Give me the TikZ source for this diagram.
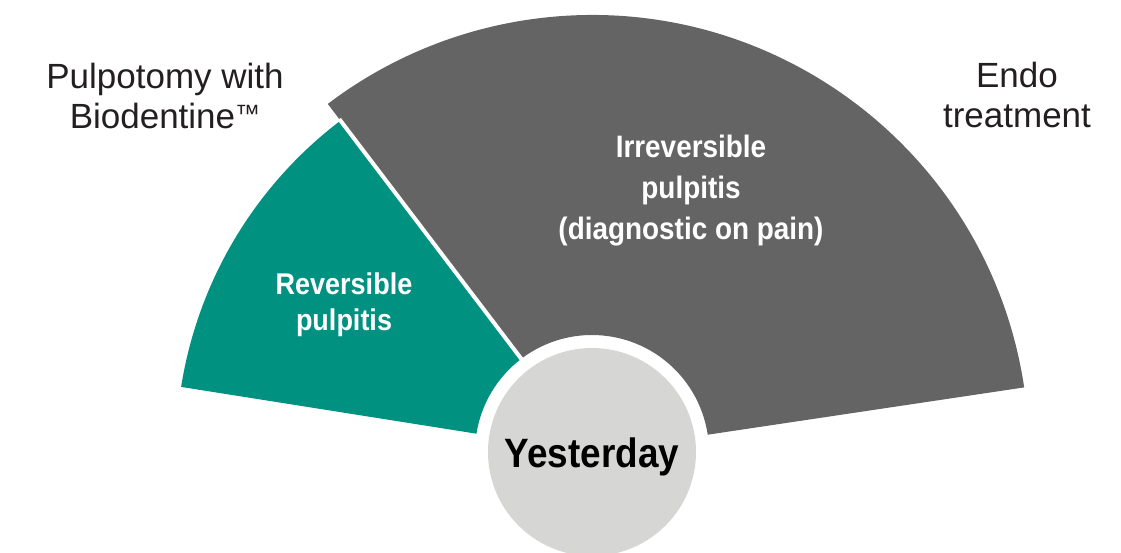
\documentclass[tikz,border=0pt]{standalone}
\usepackage{fontspec}
\setmainfont{Liberation Sans}
\newfontfamily\condfont[FakeStretch=0.9]{Liberation Sans}
\definecolor{tealsec}{RGB}{0,145,128}
\definecolor{greysec}{RGB}{100,100,100}
\definecolor{hubgrey}{RGB}{214,214,212}
\definecolor{txtdark}{RGB}{35,31,32}
\newcommand{\tmark}{\raisebox{6pt}{\fontsize{25}{25}\selectfont ™}}

\begin{document}
\begin{tikzpicture}[inner sep=0pt]
    \tikzstyle{outerlbl}=[align=center, text=txtdark, font=\fontsize{35}{40}\selectfont]
    \tikzstyle{sectlbl}=[align=center, text=white, font=\condfont\bfseries\fontsize{31}{41}\selectfont]
    \tikzstyle{hub}=[circle, fill=hubgrey, minimum size=208pt, text=black,
      text height=32pt, text depth=0pt, font=\condfont\bfseries\fontsize{41}{48}\selectfont]

    \useasboundingbox (-592pt,-101pt) rectangle (529pt,452pt);

    % les secteurs...
    \fill[greysec] (8.5:117pt) -- (8.5:437pt) arc[start angle=8.5, end angle=127.2, radius=437pt]
      -- (127.2:117pt) arc[start angle=127.2, end angle=8.5, radius=117pt] -- cycle;
    \fill[tealsec] (127.2:117pt) -- (127.2:416pt) arc[start angle=127.2, end angle=171, radius=416pt]
      -- (171:117pt) arc[start angle=171, end angle=127.2, radius=117pt] -- cycle;
    \draw[white, line width=4pt] (127.2:110pt) -- (127.2:418pt);

    \node[hub] (hub) at (0,0) {Yesterday};

    \node[sectlbl] (irrev) at (99pt,261pt) {Irreversible\\pulpitis\\(diagnostic on pain)};
    \node[sectlbl, font=\condfont\bfseries\fontsize{30}{36}\selectfont] (rev) at (-248pt,147pt) {Reversible\\pulpitis};

    \node[outerlbl] (pulp) at (-427pt,356pt) {Pulpotomy with\\Biodentine\tmark};
    \node[outerlbl] (endo) at (425pt,357pt) {Endo\\treatment};
\end{tikzpicture}
\end{document}
